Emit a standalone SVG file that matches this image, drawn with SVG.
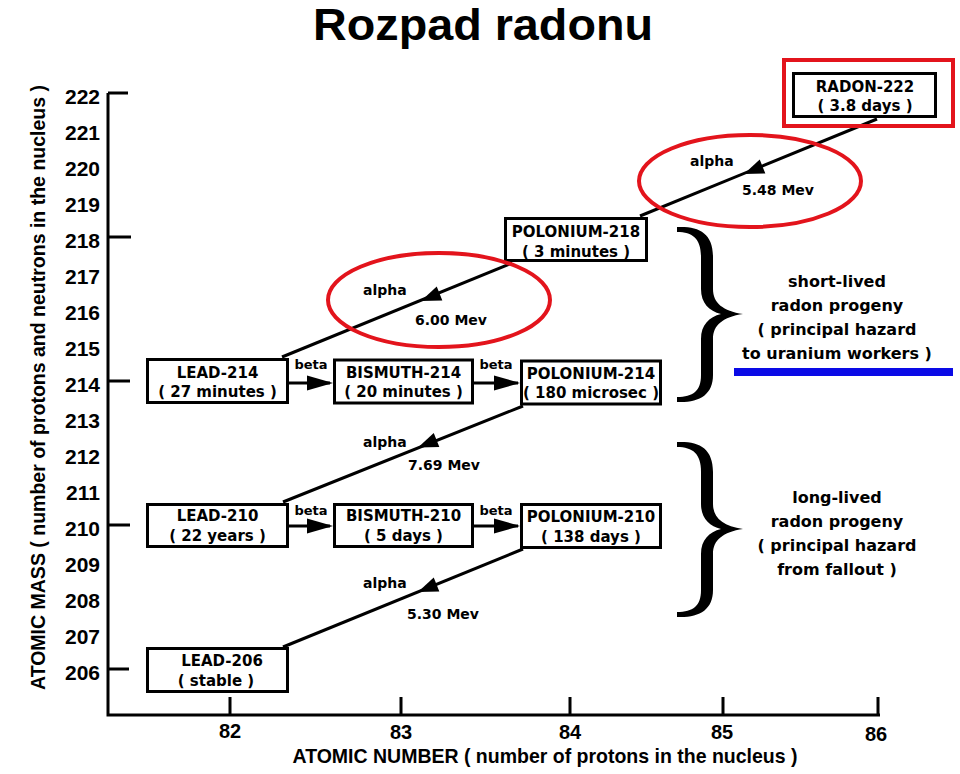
<svg xmlns="http://www.w3.org/2000/svg" width="960" height="774" viewBox="0 0 960 774">
<style>
.bg{fill:#ffffff}
.box{fill:#ffffff;stroke:#000;stroke-width:3}
.bt{font-family:"DejaVu Sans",sans-serif;font-weight:bold;font-size:15px;fill:#000;text-anchor:middle}
.lbl{font-family:"DejaVu Sans",sans-serif;font-weight:bold;font-size:14px;fill:#000}
.beta{font-family:"DejaVu Sans",sans-serif;font-weight:bold;font-size:13px;fill:#000;text-anchor:middle}
.ax{stroke:#000;stroke-width:3;fill:none}
.num{font-family:"Liberation Sans",Arial,sans-serif;font-weight:bold;font-size:21px;fill:#000;text-anchor:end}
.xnum{font-family:"Liberation Sans",Arial,sans-serif;font-weight:bold;font-size:20px;fill:#000;text-anchor:middle}
.atitle{font-family:"Liberation Sans",Arial,sans-serif;font-weight:bold;font-size:21px;fill:#000;text-anchor:middle}
.side{font-family:"DejaVu Sans",sans-serif;font-weight:bold;font-size:16px;fill:#000;text-anchor:middle}
.conn{stroke:#000;stroke-width:3;fill:none}
.red{stroke:#e3141c;stroke-width:4;fill:none}
.brace{fill:#000;stroke:none}
</style>
<defs>
<path id="ah" d="M0,0 L-20,-7.5 L-20,7.5 Z" fill="#000"/>
<path id="bh" d="M0,0 L-26,-7.5 L-26,7.5 Z" fill="#000"/>
<path id="br" class="brace" d="M0,0 C22,-1 36,6 36,30 L36,62 C36,76 46,84 66,87 C46,90 36,98 36,112 L36,148 C36,168 22,176 0,175 L0,170 C16,170 24,164 24,148 L24,112 C24,98 32,90 44,87 C32,84 24,76 24,62 L24,30 C24,12 16,5 0,5 Z"/>
</defs>
<rect class="bg" x="0" y="0" width="960" height="774"/>

<text x="483" y="40" textLength="340" lengthAdjust="spacingAndGlyphs" style="font-family:'Liberation Sans',Arial,sans-serif;font-weight:bold;font-size:44px;text-anchor:middle">Rozpad radonu</text>

<g id="axes">
<path class="ax" d="M108,93 L108,715 L880,715"/>
<path class="ax" d="M108,93 H128 M108,237 H131 M108,381 H130 M108,525 H130 M108,669 H129"/>
<path class="ax" d="M230,715 V697 M401,715 V697 M570,715 V697 M723,715 V697 M878,715 V697"/>
<text class="num" x="100" y="103.5">222</text>
<text class="num" x="100" y="139.5">221</text>
<text class="num" x="100" y="175.5">220</text>
<text class="num" x="100" y="211.5">219</text>
<text class="num" x="100" y="247.5">218</text>
<text class="num" x="100" y="283.5">217</text>
<text class="num" x="100" y="319.5">216</text>
<text class="num" x="100" y="355.5">215</text>
<text class="num" x="100" y="391.5">214</text>
<text class="num" x="100" y="427.5">213</text>
<text class="num" x="100" y="463.5">212</text>
<text class="num" x="100" y="499.5">211</text>
<text class="num" x="100" y="535.5">210</text>
<text class="num" x="100" y="571.5">209</text>
<text class="num" x="100" y="607.5">208</text>
<text class="num" x="100" y="643.5">207</text>
<text class="num" x="100" y="679.5">206</text>
<text class="xnum" x="230" y="738">82</text>
<text class="xnum" x="401" y="739">83</text>
<text class="xnum" x="570" y="739">84</text>
<text class="xnum" x="722" y="739">85</text>
<text class="xnum" x="876" y="741">86</text>
<text class="atitle" x="545" y="763" font-size="20" textLength="505" lengthAdjust="spacingAndGlyphs">ATOMIC NUMBER ( number of protons in the nucleus )</text>
<text class="atitle" transform="translate(45,387.5) rotate(-90)" x="0" y="0" font-size="22" textLength="605" lengthAdjust="spacingAndGlyphs">ATOMIC MASS ( number of protons and neutrons in the nucleus )</text>
</g>

<g id="connectors">
<path class="conn" d="M877,119 L640,216"/>
<use href="#ah" transform="translate(744,174) rotate(158)"/>
<path class="conn" d="M512,263 L282,357"/>
<use href="#ah" transform="translate(421,301) rotate(158)"/>
<path class="conn" d="M523,406 L283,502"/>
<use href="#ah" transform="translate(418,447.5) rotate(158)"/>
<path class="conn" d="M523,549 L283,647"/>
<use href="#ah" transform="translate(418,592) rotate(158)"/>
<path class="conn" d="M289,383 H330 M474,383 H518 M289,526 H330 M474,526 H518"/>
<use href="#bh" transform="translate(333,383)"/>
<use href="#bh" transform="translate(520,383)"/>
<use href="#bh" transform="translate(333,526)"/>
<use href="#bh" transform="translate(520,526)"/>
<text class="lbl" x="690" y="166">alpha</text>
<text class="lbl" x="742" y="195">5.48 Mev</text>
<text class="lbl" x="363" y="295">alpha</text>
<text class="lbl" x="415" y="325">6.00 Mev</text>
<text class="lbl" x="363" y="447">alpha</text>
<text class="lbl" x="408" y="470">7.69 Mev</text>
<text class="lbl" x="363" y="588">alpha</text>
<text class="lbl" x="407" y="619">5.30 Mev</text>
<text class="beta" x="311" y="369">beta</text>
<text class="beta" x="496" y="369">beta</text>
<text class="beta" x="311" y="515">beta</text>
<text class="beta" x="496" y="515">beta</text>
</g>

<g id="radon-222">
<rect class="box" x="793.5" y="73.5" width="142" height="43"/>
<text class="bt" x="865" y="92">RADON-222</text>
<text class="bt" x="865" y="111">( 3.8 days )</text>
</g>
<g id="polonium-218">
<rect class="box" x="505.5" y="218.5" width="141" height="42"/>
<text class="bt" x="576" y="236.5">POLONIUM-218</text>
<text class="bt" x="576" y="256.5">( 3 minutes )</text>
</g>
<g id="lead-214">
<rect class="box" x="147.5" y="359.5" width="140" height="43"/>
<text class="bt" x="217.5" y="377.5">LEAD-214</text>
<text class="bt" x="217.5" y="397">( 27 minutes )</text>
</g>
<g id="bismuth-214">
<rect class="box" x="334.5" y="360" width="138" height="43"/>
<text class="bt" x="403.5" y="377.5">BISMUTH-214</text>
<text class="bt" x="403.5" y="397">( 20 minutes )</text>
</g>
<g id="polonium-214">
<rect class="box" x="521.5" y="361" width="139" height="43"/>
<text class="bt" x="591" y="378.5">POLONIUM-214</text>
<text class="bt" x="591" y="398">( 180 microsec )</text>
</g>
<g id="lead-210">
<rect class="box" x="147.5" y="504.5" width="140" height="42"/>
<text class="bt" x="217.5" y="521">LEAD-210</text>
<text class="bt" x="217.5" y="540.5">( 22 years )</text>
</g>
<g id="bismuth-210">
<rect class="box" x="334.5" y="504.5" width="138" height="42"/>
<text class="bt" x="403.5" y="521">BISMUTH-210</text>
<text class="bt" x="403.5" y="540.5">( 5 days )</text>
</g>
<g id="polonium-210">
<rect class="box" x="521.5" y="504.5" width="139" height="43"/>
<text class="bt" x="591" y="521.5">POLONIUM-210</text>
<text class="bt" x="591" y="541.5">( 138 days )</text>
</g>
<g id="lead-206">
<rect class="box" x="147.5" y="648.5" width="140" height="43"/>
<text class="bt" x="222" y="665.5">LEAD-206</text>
<text class="bt" x="216" y="685.5">( stable )</text>
</g>

<g id="short-lived">
<use href="#br" transform="translate(677,227)"/>
<text class="side" x="837" y="287">short-lived</text>
<text class="side" x="837" y="311">radon progeny</text>
<text class="side" x="837" y="335">( principal hazard</text>
<text class="side" x="837" y="359">to uranium workers )</text>
<rect x="734" y="368" width="219" height="8" fill="#0a0ae6"/>
</g>
<g id="long-lived">
<use href="#br" transform="translate(677,442)"/>
<text class="side" x="837" y="503">long-lived</text>
<text class="side" x="837" y="527">radon progeny</text>
<text class="side" x="837" y="551">( principal hazard</text>
<text class="side" x="837" y="575">from fallout )</text>
</g>

<g id="highlights">
<rect class="red" x="784" y="60" width="169" height="66"/>
<ellipse class="red" cx="750" cy="181" rx="111" ry="46"/>
<ellipse class="red" cx="439" cy="300" rx="111" ry="47"/>
</g>
</svg>
